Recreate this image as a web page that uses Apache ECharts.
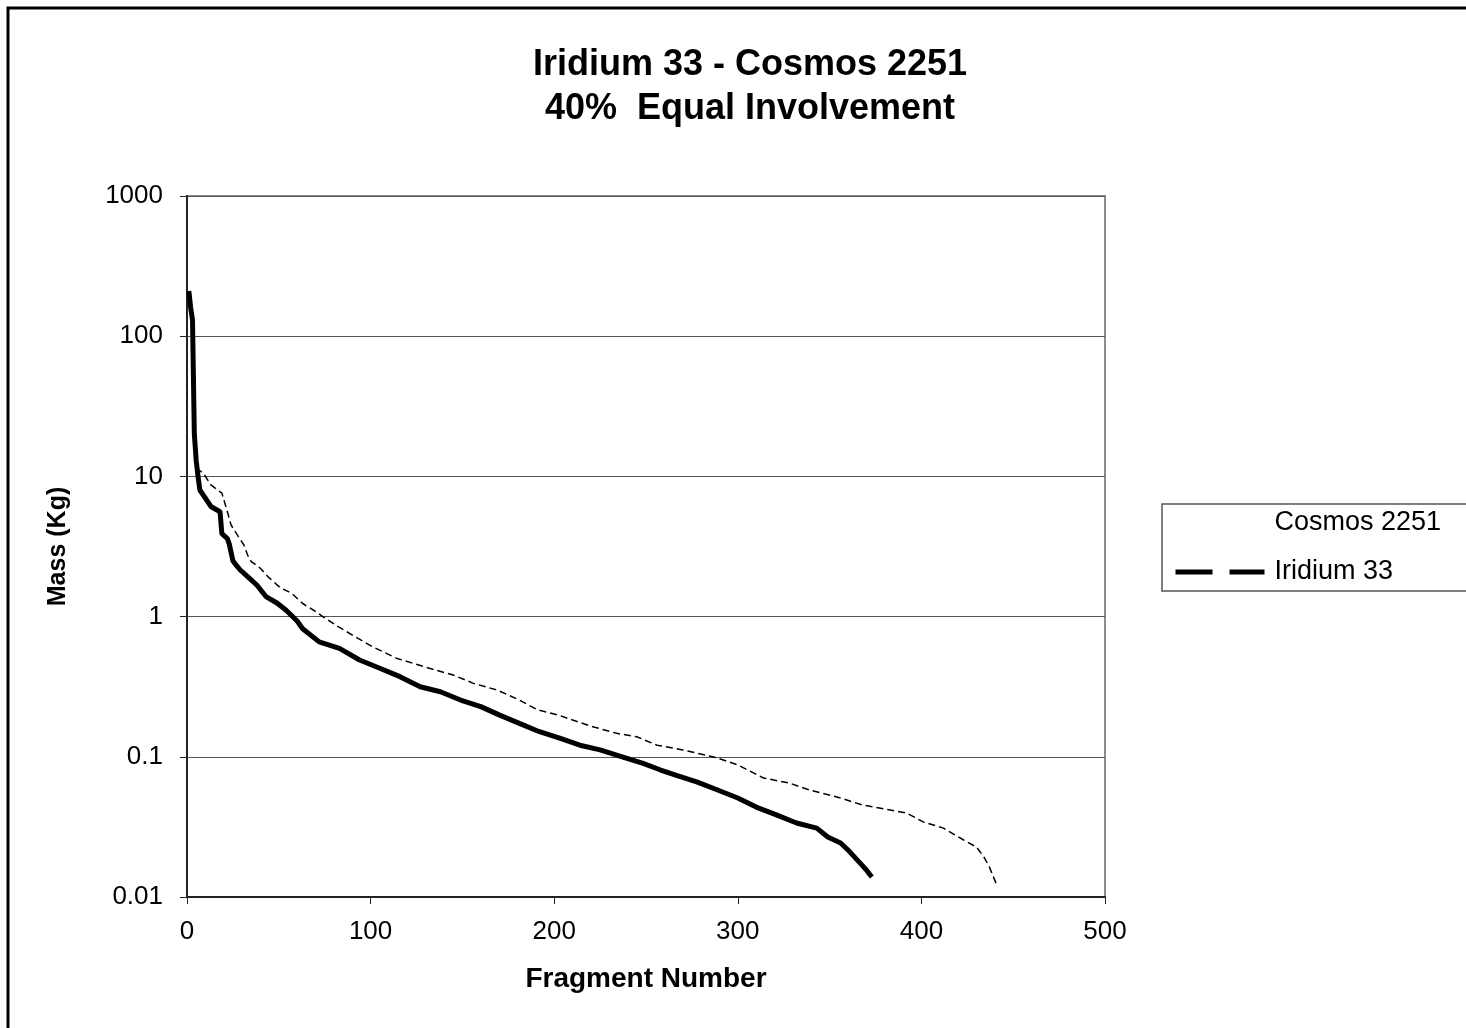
<!DOCTYPE html>
<html>
<head>
<meta charset="utf-8">
<title>Iridium 33 - Cosmos 2251</title>
<script src="https://cdn.jsdelivr.net/npm/echarts@6/dist/echarts.min.js"></script>
<style>
  html, body { margin: 0; padding: 0; background: #fff; }
  #chart { width: 1466px; height: 1028px; }
</style>
</head>
<body>
<div id="chart"></div>
<script>
// values (fragment number, mass in kg)
var iridiumFrag = [1, 2, 3, 4, 5, 6, 7, 10, 13, 18, 19, 22, 23, 25, 26, 29, 33, 38, 43, 49, 54, 60, 63, 72, 83, 94, 105, 116, 127, 138, 149, 160, 170, 181, 192, 203, 214, 225, 237, 248, 258, 267, 278, 289, 300, 310, 321, 332, 343, 349, 356, 361, 365, 370, 373];
var iridiumMass = [210, 160, 130, 20, 13, 10, 8, 7, 6.1, 5.6, 3.9, 3.6, 3.3, 2.5, 2.4, 2.15, 1.93, 1.68, 1.39, 1.25, 1.11, 0.93, 0.82, 0.66, 0.594, 0.49, 0.428, 0.373, 0.316, 0.291, 0.254, 0.228, 0.199, 0.173, 0.151, 0.136, 0.121, 0.112, 0.1, 0.09, 0.0805, 0.0735, 0.066, 0.058, 0.0508, 0.0438, 0.0385, 0.0337, 0.031, 0.0268, 0.0243, 0.021, 0.0184, 0.0156, 0.0139];

var cosmosFrag = [5, 9, 13, 19, 22, 24, 28, 31, 33, 35, 40, 44, 51, 57, 63, 69, 74, 81, 87, 101, 114, 132, 145, 156, 169, 181, 191, 202, 210, 221, 234, 245, 256, 270, 289, 300, 314, 328, 339, 354, 368, 383, 392, 401, 412, 423, 430, 434, 437, 441];
var cosmosMass = [11.5, 10.5, 8.7, 7.6, 5.6, 4.5, 3.72, 3.24, 2.75, 2.47, 2.21, 1.93, 1.6, 1.47, 1.24, 1.11, 1.0, 0.87, 0.78, 0.61, 0.505, 0.428, 0.383, 0.334, 0.299, 0.254, 0.216, 0.199, 0.183, 0.164, 0.147, 0.139, 0.121, 0.112, 0.098, 0.0875, 0.0706, 0.065, 0.058, 0.0517, 0.0453, 0.0418, 0.0397, 0.0343, 0.031, 0.0255, 0.0227, 0.0193, 0.0164, 0.0122];

var seriesNames = ['Cosmos 2251', 'Iridium 33'];
var xTicks = [0, 100, 200, 300, 400, 500];

function pairs(xs, ys) {
  var out = [];
  for (var i = 0; i < xs.length; i++) {
    out.push([xs[i], ys[i]]);
  }
  return out;
}

var font = "'Liberation Sans', Arial, sans-serif";
var myChart = echarts.init(document.getElementById('chart'));

var option = {
  animation: false,
  backgroundColor: '#fff',
  title: {
    text: 'Iridium 33 - Cosmos 2251\n40%  Equal Involvement',
    left: 745,
    top: 38,
    textAlign: 'center',
    textStyle: {
      fontFamily: font,
      fontSize: 36,
      fontWeight: 'bold',
      color: '#000',
      lineHeight: 44
    }
  },
  graphic: [{
    type: 'rect',
    shape: { x: 8, y: 8, width: 1500, height: 1100 },
    style: { fill: 'none', stroke: '#000', lineWidth: 3 },
    silent: true
  }],
  legend: {
    orient: 'vertical',
    left: 1162,
    top: 504,
    width: 400,
    padding: [4, 60, 4, 11],
    borderColor: '#555',
    borderWidth: 1.5,
    itemWidth: 89,
    itemHeight: 14,
    itemGap: 19,
    textStyle: {
      fontFamily: font,
      fontSize: 27,
      color: '#000',
      lineHeight: 30,
      padding: [0, 0, 0, 5]
    },
    data: [
      { name: seriesNames[0], lineStyle: { opacity: 0 }, itemStyle: { opacity: 0 } },
      { name: seriesNames[1], lineStyle: { type: [37, 17], width: 5, color: '#000' }, itemStyle: { opacity: 0 } }
    ]
  },
  grid: {
    left: 187,
    top: 196,
    right: 361,
    bottom: 131,
    show: true,
    borderColor: '#8c8c8c',
    borderWidth: 2,
    backgroundColor: '#fff'
  },
  xAxis: {
    type: 'value',
    min: 0,
    max: 500,
    interval: 100,
    name: 'Fragment Number',
    nameLocation: 'middle',
    nameGap: 68,
    nameTextStyle: { fontFamily: font, fontSize: 28, fontWeight: 'bold', color: '#000' },
    axisLine: { lineStyle: { color: '#222', width: 2 } },
    axisTick: { show: true, length: 7, lineStyle: { color: '#222', width: 1 } },
    axisLabel: {
      fontFamily: font,
      fontSize: 26,
      color: '#000',
      margin: 22,
      customValues: xTicks
    },
    splitLine: { show: false }
  },
  yAxis: {
    type: 'log',
    logBase: 10,
    min: 0.01,
    max: 1000,
    name: 'Mass (Kg)',
    nameLocation: 'middle',
    nameRotate: 90,
    nameGap: 116,
    nameTextStyle: { fontFamily: font, fontSize: 25, fontWeight: 'bold', color: '#000' },
    axisLine: { show: true, lineStyle: { color: '#222', width: 2 } },
    axisTick: { show: true, length: 7, lineStyle: { color: '#222', width: 1 } },
    axisLabel: {
      fontFamily: font,
      fontSize: 26,
      color: '#000',
      margin: 24,
      formatter: function (v) { return String(+v.toPrecision(6)); }
    },
    splitLine: { show: true, lineStyle: { color: '#555', width: 1.2 } }
  },
  series: [
    {
      name: seriesNames[0],
      type: 'line',
      data: pairs(cosmosFrag, cosmosMass),
      symbol: 'none',
      itemStyle: { color: '#000' },
      lineStyle: { color: '#000', width: 1.5, type: [7, 4] },
      z: 2
    },
    {
      name: seriesNames[1],
      type: 'line',
      data: pairs(iridiumFrag, iridiumMass),
      symbol: 'none',
      itemStyle: { color: '#000' },
      lineStyle: { color: '#000', width: 5, type: 'solid' },
      z: 3
    }
  ]
};

myChart.setOption(option);
</script>
</body>
</html>
